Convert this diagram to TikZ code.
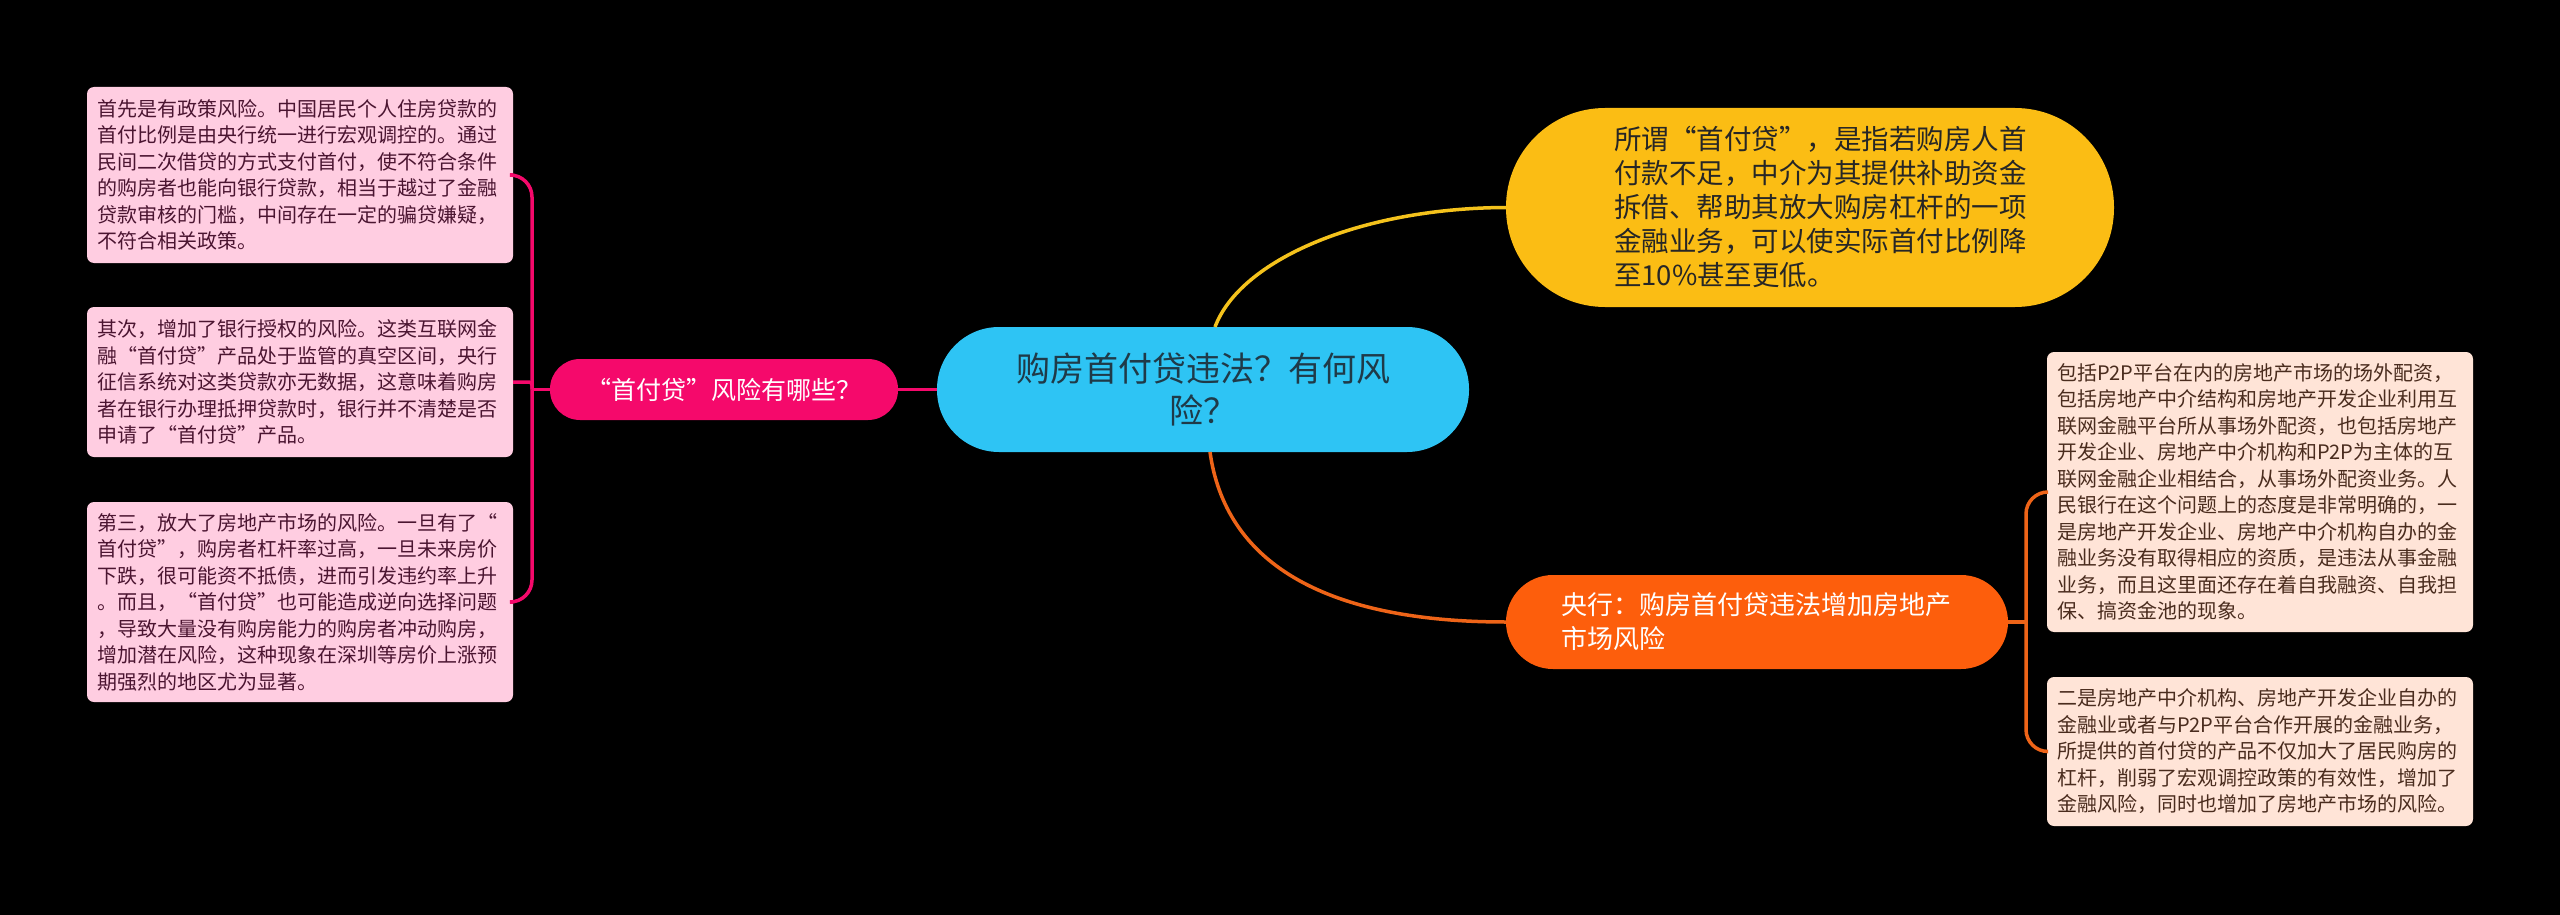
\documentclass[tikz,border=0pt]{standalone}
\usepackage{fontspec}
\setmainfont{Noto Sans CJK SC}
\definecolor{rootblue}{HTML}{2EC4F4}
\definecolor{roottext}{HTML}{1F3A48}
\definecolor{riskpink}{HTML}{F5096B}
\definecolor{defyellow}{HTML}{FBBD14}
\definecolor{defline}{HTML}{F4C21C}
\definecolor{pbocorange}{HTML}{FD5E0C}
\definecolor{pbocline}{HTML}{EE6418}
\definecolor{leafpink}{HTML}{FFCDE1}
\definecolor{leafpinktext}{HTML}{4B1531}
\definecolor{leafpeach}{HTML}{FFE4D7}
\definecolor{leafpeachtext}{HTML}{4A2C1E}

\begin{document}
\begin{tikzpicture}[
        x=1pt, y=-1pt,
        every node/.style={inner sep=0pt, outer sep=0pt},
        root/.style={fill=rootblue, text=roottext, rounded corners=62pt,
        minimum width=532pt, minimum height=125pt, text width=400pt,
        align=center, font=\fontsize{34pt}{42pt}\selectfont},
        riskq/.style={fill=riskpink, text=white, rounded corners=30pt,
        minimum width=348pt, minimum height=61pt,
        font=\fontsize{25pt}{30pt}\selectfont},
        define/.style={fill=defyellow, text=black!85, rounded corners=99pt,
        minimum width=608pt, minimum height=199pt, text width=392pt,
        align=left, font=\fontsize{27.5pt}{34pt}\selectfont},
        pboc/.style={fill=pbocorange, text=white, rounded corners=47pt,
        minimum width=502pt, minimum height=94pt, text width=392pt,
        align=left, font=\fontsize{26pt}{34pt}\selectfont},
        leaf/.style={rounded corners=7pt, minimum width=426pt,
        text width=406pt, align=left,
        font=\fontsize{20pt}{26.5pt}\selectfont},
        leftleaf/.style={leaf, fill=leafpink, text=leafpinktext},
        rightleaf/.style={leaf, fill=leafpeach, text=leafpeachtext},
        riskline/.style={draw=riskpink, line width=3.5pt},
        defconn/.style={draw=defline, line width=3.5pt},
        pbocconn/.style={draw=pbocline, line width=3.5pt}
      ]
    \fill[black] (0,0) rectangle (2560,915);
    \node[root] (root) at (1203,389.5)
    {购房首付贷违法？有何风\\险？};
    \node[riskq] (riskq) at (724,389.5)
    {“首付贷”风险有哪些？};
    \node[define] (define) at (1810,207.5)
    {所谓“首付贷”，是指若购房人首\\
    付款不足，中介为其提供补助资金\\
    拆借、帮助其放大购房杠杆的一项\\
    金融业务，可以使实际首付比例降\\
    至10\%甚至更低。};
    \node[pboc] (pboc) at (1757,622)
    {央行：购房首付贷违法增加房地产\\
    市场风险};
    \node[leftleaf, minimum height=176pt] (policy) at (300,175)
    {首先是有政策风险。中国居民个人住房贷款的\\
    首付比例是由央行统一进行宏观调控的。通过\\
    民间二次借贷的方式支付首付，使不符合条件\\
    的购房者也能向银行贷款，相当于越过了金融\\
    贷款审核的门槛，中间存在一定的骗贷嫌疑，\\
    不符合相关政策。};
    \node[leftleaf, minimum height=150pt] (bank) at (300,382)
    {其次，增加了银行授权的风险。这类互联网金\\
    融“首付贷”产品处于监管的真空区间，央行\\
    征信系统对这类贷款亦无数据，这意味着购房\\
    者在银行办理抵押贷款时，银行并不清楚是否\\
    申请了“首付贷”产品。};
    \node[leftleaf, minimum height=200pt] (market) at (300,602)
    {第三，放大了房地产市场的风险。一旦有了“\\
    首付贷”，购房者杠杆率过高，一旦未来房价\\
    下跌，很可能资不抵债，进而引发违约率上升\\
    。而且，“首付贷”也可能造成逆向选择问题\\
    ，导致大量没有购房能力的购房者冲动购房，\\
    增加潜在风险，这种现象在深圳等房价上涨预\\
    期强烈的地区尤为显著。};
    \node[rightleaf, minimum height=280pt] (offsite) at (2260,492)
    {包括P2P平台在内的房地产市场的场外配资，\\
    包括房地产中介结构和房地产开发企业利用互\\
    联网金融平台所从事场外配资，也包括房地产\\
    开发企业、房地产中介机构和P2P为主体的互\\
    联网金融企业相结合，从事场外配资业务。人\\
    民银行在这个问题上的态度是非常明确的，一\\
    是房地产开发企业、房地产中介机构自办的金\\
    融业务没有取得相应的资质，是违法从事金融\\
    业务，而且这里面还存在着自我融资、自我担\\
    保、搞资金池的现象。};
    \node[rightleaf, minimum height=149pt] (leverage) at (2260,751.5)
    {二是房地产中介机构、房地产开发企业自办的\\
    金融业或者与P2P平台合作开展的金融业务，\\
    所提供的首付贷的产品不仅加大了居民购房的\\
    杠杆，削弱了宏观调控政策的有效性，增加了\\
    金融风险，同时也增加了房地产市场的风险。};
    \coordinate (lj) at (532,389.5);
    \coordinate (rj) at (2026,622);
    \draw[riskline] (root.west) -- (riskq.east);
    \draw[defconn] ([xshift=12pt]root.north)
      .. controls (1240,260) and (1360,208) .. (define.west);
    \draw[pbocconn] ([xshift=7pt]root.south)
      .. controls (1225,560) and (1320,622) .. (pboc.west);
    \draw[riskline] (riskq.west) -- (lj);
    \draw[riskline, rounded corners=22pt] (lj) |- (policy.east);
    \draw[riskline, rounded corners=3pt] (lj) |- (bank.east);
    \draw[riskline, rounded corners=22pt] (lj) |- (market.east);
    \draw[pbocconn] (pboc.east) -- (rj);
    \draw[pbocconn, rounded corners=22pt] (rj) |- (offsite.west);
    \draw[pbocconn, rounded corners=22pt] (rj) |- (leverage.west);
      \end{tikzpicture}
\end{document}
